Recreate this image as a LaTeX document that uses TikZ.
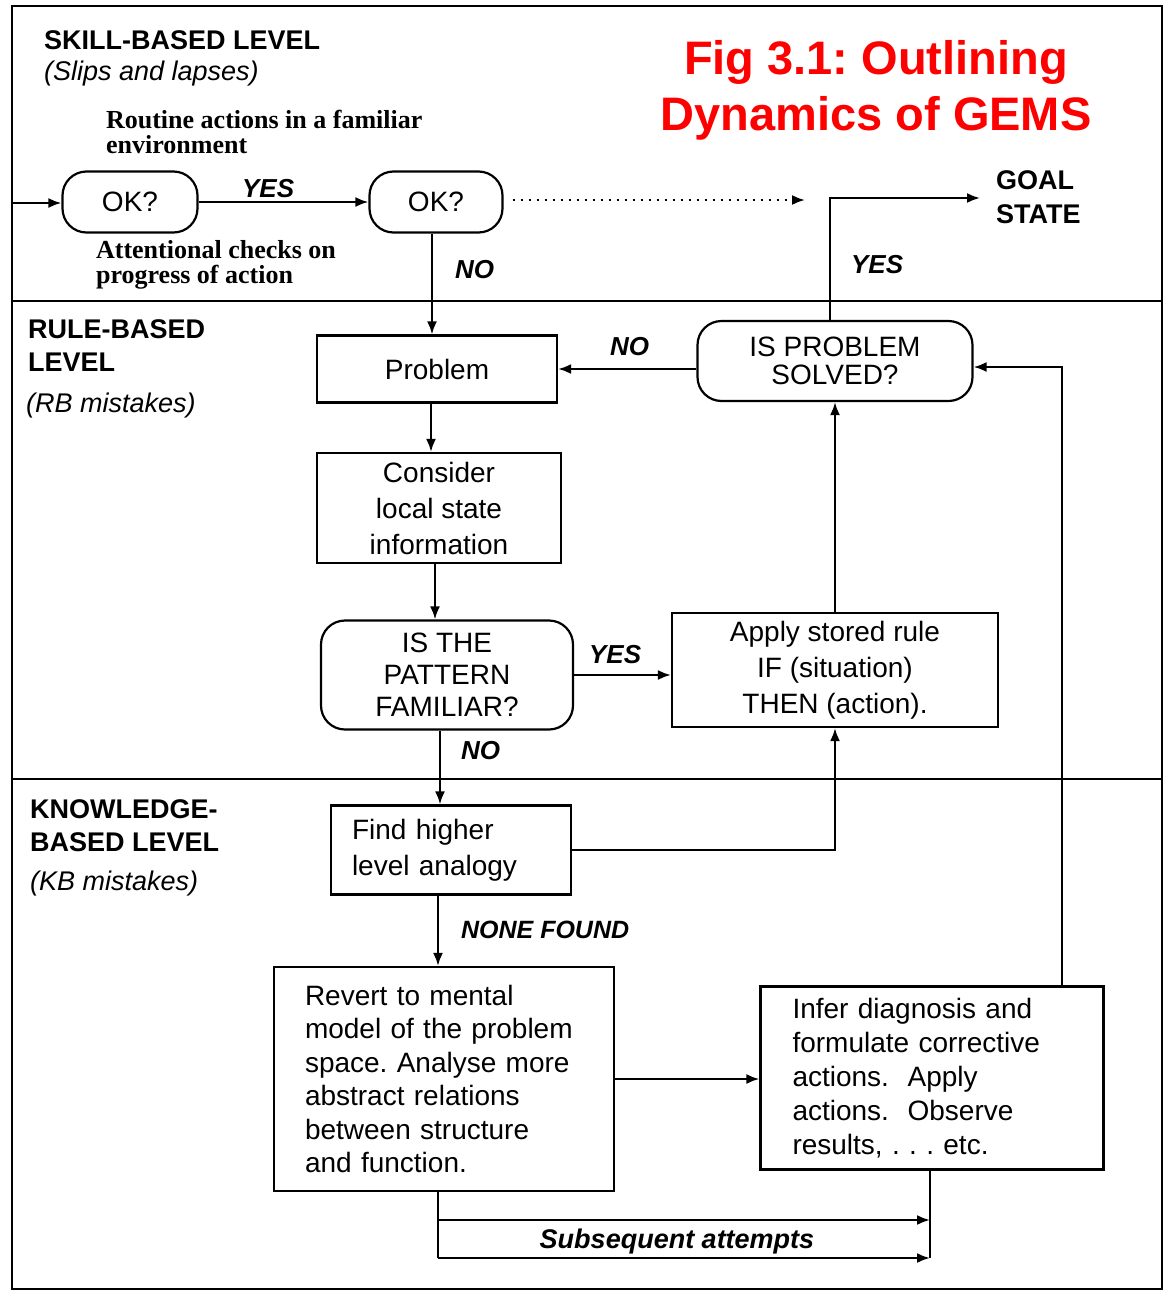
\documentclass[tikz,border=0pt]{standalone}
\usepackage{fontspec}
\setmainfont{Liberation Sans}
\newfontfamily\oldserif{Liberation Serif}
\usetikzlibrary{arrows.meta}
\frenchspacing
\begin{document}
\begin{tikzpicture}[x=1pt,y=-1pt,
  line width=2.2pt,
  box/.style={draw, rectangle, inner sep=0pt, align=center, font=\fontsize{28}{36}\selectfont},
  rbox/.style={box, rounded corners=24pt},
  lab/.style={font=\fontsize{26}{30}\selectfont\bfseries\itshape, inner sep=0pt, anchor=base west},
  head/.style={font=\fontsize{27}{32}\selectfont\bfseries, inner sep=0pt, anchor=base west},
  sub/.style={font=\fontsize{27}{32}\selectfont\itshape, inner sep=0pt, anchor=base west},
  serifnote/.style={font=\oldserif\fontsize{26}{24}\selectfont\bfseries, inner sep=0pt, anchor=base west},
  ttl/.style={font=\fontsize{47}{56}\selectfont\bfseries, text=red, inner sep=0pt, anchor=base},
  arr/.style={-{Latex[length=13pt,width=10pt]}}
]
\useasboundingbox (0,0) rectangle (1169,1296);
\fill[white] (0,0) rectangle (1169,1296);
% frame and level dividers
\draw[line width=2.6pt] (12,6) rectangle (1162,1289);
\draw (12,301) -- (1162,301);
\draw (12,779) -- (1162,779);

% title
\node[ttl] (t1) at (876,74) {Fig 3.1: Outlining};
\node[ttl] (t2) at (876,130) {Dynamics of GEMS};

% level headings
\node[head] (h1) at (43,49) {SKILL-BASED LEVEL};
\node[sub]  (h1s) at (43,80) {(Slips and lapses)};
\node[head] (h2a) at (27,338) {RULE-BASED};
\node[head] (h2b) at (27,371) {LEVEL};
\node[sub]  (h2s) at (25,412) {(RB mistakes)};
\node[head] (h3a) at (29,818) {KNOWLEDGE-};
\node[head] (h3b) at (29,851) {BASED LEVEL};
\node[sub]  (h3s) at (29,890) {(KB mistakes)};

% serif notes
\node[serifnote] (r1) at (105,128) {Routine actions in a familiar};
\node[serifnote] (r2) at (105,153) {environment};
\node[serifnote] (a1) at (95,258) {Attentional checks on};
\node[serifnote] (a2) at (95,283) {progress of action};

% skill-based nodes
\node[rbox, minimum width=135pt, minimum height=61pt] (ok1) at (130,202) {OK?};
\node[rbox, minimum width=133pt, minimum height=61pt] (ok2) at (436,202) {OK?};
\coordinate (entry) at (12,203);
\coordinate (dotend) at (805,200);
\draw[arr] (entry) -- (ok1.west |- entry);
\draw[arr] (ok1.east) -- (ok2.west);
\node[lab] (yes1) at (241,197) {YES};
\draw[arr, dash pattern=on 2pt off 6pt] ([xshift=9pt]ok2.east |- dotend) -- (dotend);

\node[head] (goal1) at (995,189) {GOAL};
\node[head] (goal2) at (995,223) {STATE};
\coordinate (goalpt) at (980,198);

% rule-based nodes
\node[box, minimum width=240pt, minimum height=67pt] (prob) at (437,369) {Problem};
\node[rbox, minimum width=275pt, minimum height=80pt, font=\fontsize{28}{28}\selectfont] (ips) at (835,361) {IS PROBLEM\\SOLVED?};
\node[box, minimum width=244pt, minimum height=110pt] (cons) at (439,508) {Consider\\local state\\information};
\node[rbox, minimum width=252pt, minimum height=109pt, font=\fontsize{28}{32}\selectfont] (pat) at (447,675) {IS THE\\PATTERN\\FAMILIAR?};
\node[box, minimum width=326pt, minimum height=114pt] (app) at (835,670) {Apply stored rule\\IF (situation)\\THEN (action).};

\draw[arr] ([xshift=-4pt]ok2.south) -- ([xshift=-4pt]ok2.south |- prob.north);
\node[lab] (no1) at (454,278) {NO};
\draw[arr] ([xshift=-5pt]ips.north) |- (goalpt);
\node[lab] (yes2) at (850,273) {YES};
\draw[arr] (ips.west |- prob.east) -- (prob.east);
\node[lab] (no2) at (609,355) {NO};
\draw[arr] ([xshift=-6pt]prob.south) -- ([xshift=-6pt]prob.south |- cons.north);
\draw[arr] ([xshift=-4pt]cons.south) -- ([xshift=-4pt]cons.south |- pat.north);
\draw[arr] (pat.east) -- (pat.east -| app.west);
\node[lab] (yes3) at (588,663) {YES};
\draw[arr] (app.north) -- (ips.south);

% knowledge-based nodes
\node[box, inner xsep=21pt, text width=198pt, minimum height=89pt, align=left] (find) at (451,850) {Find higher\\level analogy};
\node[box, inner xsep=31pt, text width=278pt, minimum height=224pt, align=left, font=\fontsize{28}{33.5}\selectfont] (rev) at (444,1079) {Revert to mental\\model of the problem\\space. Analyse more\\abstract relations\\between structure\\and function.};
\node[box, inner xsep=32pt, text width=279pt, minimum height=183pt, align=left, font=\fontsize{28}{34}\selectfont] (inf) at (932,1078) {Infer diagnosis and\\formulate corrective\\actions.~ Apply\\actions.~ Observe\\results, . . . etc.};

\draw[arr] ([xshift=-7pt]pat.south) -- ([xshift=-7pt]pat.south |- find.north);
\node[lab] (no3) at (460,759) {NO};
\draw[arr] (find.east) -| (app.south);
\draw[arr] ([xshift=-13pt]find.south) -- ([xshift=-13pt]find.south |- rev.north);
\node[lab, font=\fontsize{25}{30}\selectfont\bfseries\itshape] (nf) at (460,938) {NONE FOUND};
\draw[arr] (rev.east) -- (rev.east -| inf.west);
\draw[arr] ([xshift=130pt]inf.north) |- ([yshift=-6pt]ips.east);

% subsequent attempts loop
\coordinate (lp1) at (438,1220);
\coordinate (lp2) at (438,1258);
\draw ([xshift=-6pt]rev.south) -- (lp2);
\draw[arr] (lp1) -- ([xshift=-2pt]lp1 -| inf.south);
\draw[arr] (lp2) -- ([xshift=-2pt]lp2 -| inf.south);
\draw ([xshift=-2pt]inf.south) -- ([xshift=-2pt]inf.south |- lp2);
\node[font=\fontsize{27}{30}\selectfont\bfseries\itshape, inner sep=0pt, anchor=base] (sa) at (677,1248) {Subsequent attempts};
\end{tikzpicture}
\end{document}
